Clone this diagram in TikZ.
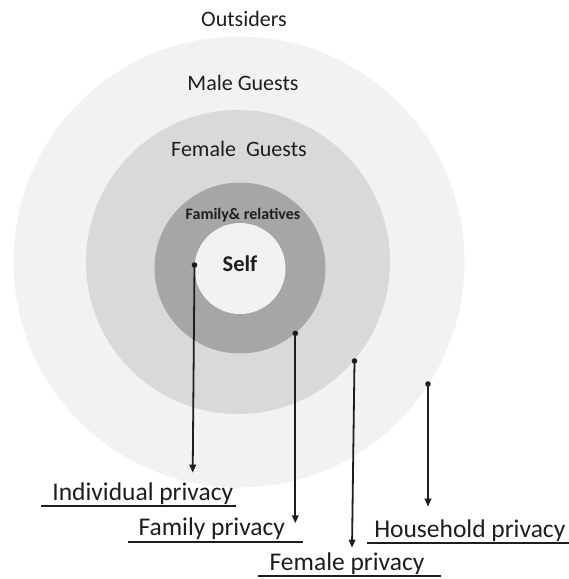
\documentclass[tikz,border=0pt]{standalone}
\usepackage{fontspec}
\setmainfont{Carlito}
\usetikzlibrary{arrows.meta}
\definecolor{ringouter}{HTML}{F2F2F2}
\definecolor{ringmid}{HTML}{D9D9D9}
\definecolor{ringdark}{HTML}{A6A6A6}
\definecolor{ringself}{HTML}{F2F2F2}
\definecolor{ink}{HTML}{1E1E1E}
\begin{document}
\begin{tikzpicture}[x=1pt,y=-1pt,
  ring/.style={circle,draw=none,inner sep=0pt},
  zone/.style={font=\fontsize{22}{26}\selectfont, text=ink, inner sep=0pt, anchor=base},
  tag/.style={font=\fontsize{25.5}{30}\selectfont, text=ink, inner sep=0pt, anchor=base},
  uline/.style={draw=ink, line width=1.8pt},
  dot/.style={circle, fill=ink, inner sep=0pt, minimum size=5.6pt},
  link/.style={draw=ink, line width=1.8pt, -{Triangle[length=8pt,width=6.5pt]}}]
\useasboundingbox (0,0) rectangle (569,579);
\fill[white] (0,0) rectangle (569,579);

% concentric privacy zones
\node[ring, fill=ringouter, minimum size=451pt] (outer) at (239,262) {};
\node[ring, fill=ringmid,   minimum size=304pt] (mid)   at (238,262) {};
\node[ring, fill=ringdark,  minimum size=171pt] (fam)   at (240,268) {};
\node[ring, fill=ringself,  minimum size=91pt]  (self)  at (240,268.5) {};

% zone captions
\node[zone] (tOut)  at (244,26.7) {Outsiders};
\node[zone] (tMale) at (243,90) {Male Guests};
\node[zone] (tFem)  at (239,156.7) {Female\ \ Guests};
\node[zone, font=\fontsize{16}{19}\selectfont\bfseries] (tFam) at (243,219.5) {Family\& relatives};
\node[zone, font=\fontsize{22.5}{26}\selectfont\bfseries] (tSelf) at (240,271.7) {Self};

% privacy labels
\node[tag] (lInd) at (142.8,500) {Individual privacy};
\node[tag] (lFam) at (211.8,535) {Family privacy};
\node[tag] (lFem) at (347,570) {Female privacy};
\node[tag] (lHou) at (469.8,537.3) {Household privacy};

\draw[uline] (40.7,506) -- (235.6,506);
\draw[uline] (128,541.7) -- (302.5,541.7);
\draw[uline] (258,575.7) -- (441,575.7);
\draw[uline] (367,543) -- (569,543);

% pointers from each zone to its label
\node[dot] (dInd) at (194.5,265) {};
\node[dot] (dFam) at (295.3,333.3) {};
\node[dot] (dFem) at (354.5,361) {};
\node[dot] (dHou) at (428,384) {};
\coordinate (aInd) at (192.7,472.7);
\coordinate (aFam) at (295.3,523.3);
\coordinate (aFem) at (352,547.7);
\coordinate (aHou) at (428,506.7);

\draw[link] (dInd.center) -- (aInd);
\draw[link] (dFam.center) -- (aFam);
\draw[link] (dFem.center) -- (aFem);
\draw[link] (dHou.center) -- (aHou);
\end{tikzpicture}
\end{document}
